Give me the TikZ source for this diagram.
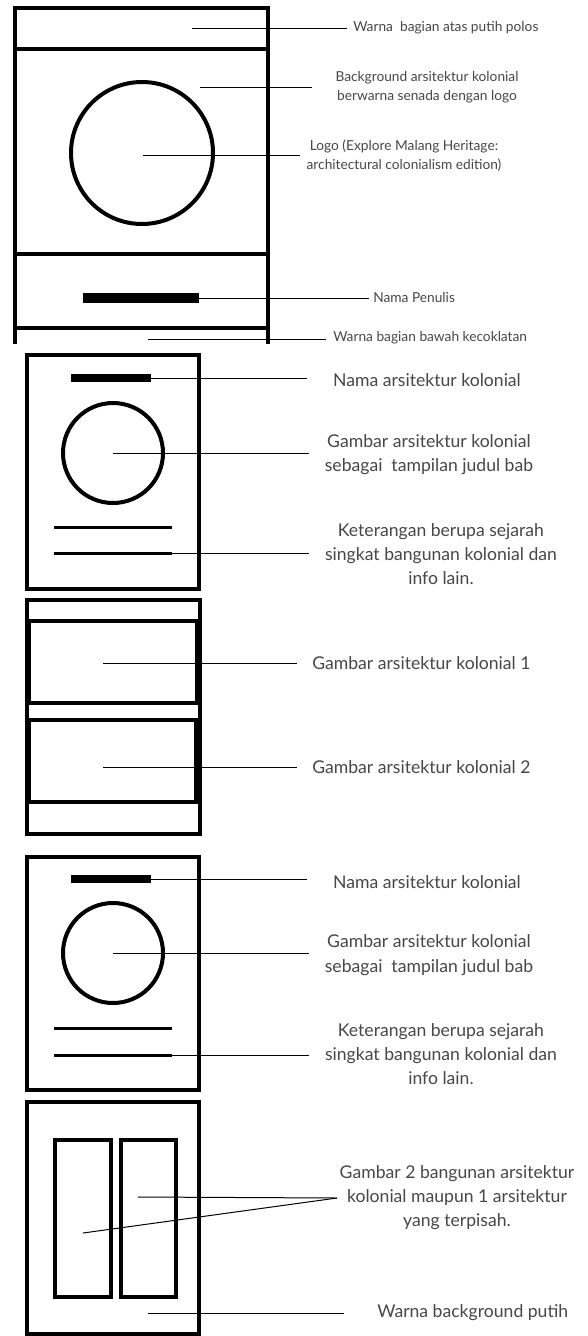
\documentclass[tikz,border=0pt]{standalone}
\usepackage{fontspec}
\setmainfont{Lato}
\definecolor{txt}{HTML}{474747}
\begin{document}
\begin{tikzpicture}[x=0.75pt,y=-0.75pt,
  frame/.style={draw=black, line width=3pt},
  ring/.style={circle, draw=black, line width=3pt, inner sep=0},
  bar/.style={fill=black, inner sep=0, rectangle},
  tline/.style={draw=black, line width=2.25pt},
  lead/.style={draw=black, line width=0.75pt},
  lblA/.style={text=txt, font=\fontsize{10.3}{14.3}\selectfont, align=center, inner sep=0},
  lblB/.style={text=txt, font=\fontsize{13.2}{18.2}\selectfont, align=center, inner sep=0}]
\useasboundingbox (0,0) rectangle (588,1336);
\fill[white] (0,0) rectangle (588,1336);

% ---------- Panel 1 : cover ----------
\begin{scope}
\clip (0,0) rectangle (588,343);
\draw[frame] (15,350) -- (15,8) -- (268,8) -- (268,350);
\draw[frame] (15,49) -- (268,49);
\draw[frame] (15,254) -- (268,254);
\draw[frame] (13,328) -- (268,328);
\node[ring, minimum size=106.5pt] (c1) at (142,153) {};
\node[bar, minimum width=87pt, minimum height=7.5pt] (bar1) at (141,298) {};
\coordinate (p1a) at (192,28);
\coordinate (p1b) at (200,87);
\coordinate (p1c) at (143,155);
\coordinate (p1e) at (148,339);
\coordinate (e1a) at (347,28);
\coordinate (e1b) at (312,87);
\coordinate (e1c) at (300,155);
\coordinate (e1d) at (369,298);
\coordinate (e1e) at (326,339);
\node[lblA, anchor=west] (t1a) at (353,28) {Warna\ \ bagian atas putih polos};
\node[lblA] (t1b) at (427,87.5) {Background arsitektur kolonial\\berwarna senada dengan logo};
\node[lblA] (t1c) at (404,156) {Logo (Explore Malang Heritage:\\architectural colonialism edition)};
\node[lblA, anchor=west] (t1d) at (373,297) {Nama Penulis};
\node[lblA, anchor=west] (t1e) at (333,338) {Warna bagian bawah kecoklatan};
\draw[lead] (p1a) -- (e1a);
\draw[lead] (p1b) -- (e1b);
\draw[lead] (p1c) -- (e1c);
\draw[lead] (bar1.east) -- (e1d);
\draw[lead] (p1e) -- (e1e);
\end{scope}

% ---------- Panel 2 : chapter page ----------
\draw[frame] (27,355) rectangle (199,589);
\node[bar, minimum width=60pt, minimum height=6pt] (bar2) at (111,378) {};
\node[ring, minimum size=75pt] (c2) at (113,453) {};
\draw[tline] (54,527) -- (172,527);
\draw[tline] (54,553) -- (172,553);
\coordinate (l2) at (172,553);
\coordinate (e2a) at (307,378);
\coordinate (e2b) at (309,453);
\coordinate (e2c) at (309,553);
\node[lblB] (t2a) at (427,380) {Nama arsitektur kolonial};
\node[lblB] (t2b) at (429,454.5) {Gambar arsitektur kolonial\\sebagai\ \ tampilan judul bab};
\node[lblB] (t2c) at (441,554) {Keterangan berupa sejarah\\singkat bangunan kolonial dan\\info lain.};
\draw[lead] (bar2.east) -- (e2a);
\draw[lead] (c2.center) -- (e2b);
\draw[lead] (l2) -- (e2c);

% ---------- Panel 3 : two pictures ----------
\draw[frame] (27,600) rectangle (199.5,834);
\draw[frame] (29,621) rectangle (197,703);
\draw[frame] (29,720) rectangle (195.5,802);
\coordinate (p3a) at (103,663);
\coordinate (p3b) at (103,767);
\coordinate (e3a) at (297,663);
\coordinate (e3b) at (297,767);
\node[lblB, anchor=west] (t3a) at (312,663) {Gambar arsitektur kolonial 1};
\node[lblB, anchor=west] (t3b) at (312,767) {Gambar arsitektur kolonial 2};
\draw[lead] (p3a) -- (e3a);
\draw[lead] (p3b) -- (e3b);

% ---------- Panel 4 : chapter page ----------
\draw[frame] (27,857) rectangle (199,1090);
\node[bar, minimum width=60pt, minimum height=6pt] (bar4) at (111,879) {};
\node[ring, minimum size=75pt] (c4) at (113,953) {};
\draw[tline] (54,1028) -- (172,1028);
\draw[tline] (54,1055) -- (172,1055);
\coordinate (l4) at (172,1055);
\coordinate (e4a) at (307,879);
\coordinate (e4b) at (309,953);
\coordinate (e4c) at (309,1055);
\node[lblB] (t4a) at (427,882) {Nama arsitektur kolonial};
\node[lblB] (t4b) at (429,955) {Gambar arsitektur kolonial\\sebagai\ \ tampilan judul bab};
\node[lblB] (t4c) at (441,1054) {Keterangan berupa sejarah\\singkat bangunan kolonial dan\\info lain.};
\draw[lead] (bar4.east) -- (e4a);
\draw[lead] (c4.center) -- (e4b);
\draw[lead] (l4) -- (e4c);

% ---------- Panel 5 : two buildings ----------
\draw[frame] (27,1102) rectangle (199,1334);
\draw[frame] (55,1140) rectangle (111,1297);
\draw[frame] (121,1140) rectangle (176,1297);
\coordinate (p5a) at (138,1197);
\coordinate (p5b) at (83,1233);
\coordinate (j5) at (337,1198);
\coordinate (p5c) at (148,1313);
\coordinate (e5c) at (344,1313);
\node[lblB] (t5a) at (457,1197.5) {Gambar 2 bangunan arsitektur\\kolonial maupun 1 arsitektur\\yang terpisah.};
\node[lblB, anchor=west] (t5b) at (377,1313) {Warna background putih};
\draw[lead] (p5a) -- (j5);
\draw[lead] (p5b) -- (j5);
\draw[lead] (p5c) -- (e5c);
\end{tikzpicture}
\end{document}
